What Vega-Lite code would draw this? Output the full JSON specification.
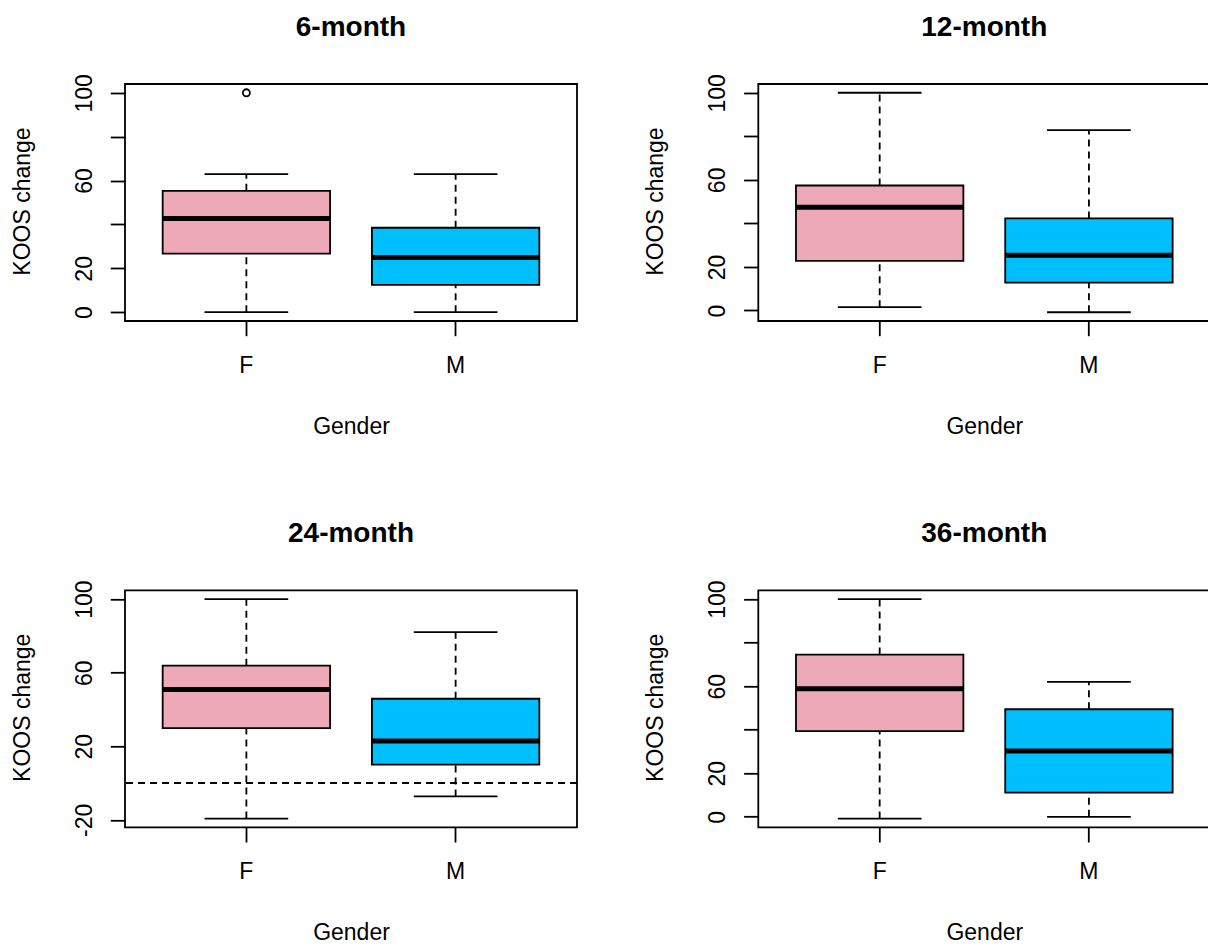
{
  "$schema": "https://vega.github.io/schema/vega-lite/v6.json",
  "background": "white",
  "padding": {"left": 10, "top": 12, "right": 0, "bottom": 0},
  "datasets": {
    "boxes": [
      {"period": "6-month", "gender": "F", "lower": 0, "q1": 26.7, "median": 42.7, "q3": 55.3, "upper": 62.9, "outlier": 100},
      {"period": "6-month", "gender": "M", "lower": 0, "q1": 12.5, "median": 24.9, "q3": 38.5, "upper": 62.9},
      {"period": "12-month", "gender": "F", "lower": 1.5, "q1": 22.8, "median": 47.4, "q3": 57.4, "upper": 100},
      {"period": "12-month", "gender": "M", "lower": -0.8, "q1": 12.8, "median": 25.4, "q3": 42.3, "upper": 82.8},
      {"period": "24-month", "gender": "F", "lower": -19.3, "q1": 29.8, "median": 50.9, "q3": 63.8, "upper": 100},
      {"period": "24-month", "gender": "M", "lower": -7.3, "q1": 10, "median": 22.9, "q3": 45.8, "upper": 82},
      {"period": "36-month", "gender": "F", "lower": -0.8, "q1": 39.3, "median": 58.8, "q3": 74.5, "upper": 100},
      {"period": "36-month", "gender": "M", "lower": 0, "q1": 11.1, "median": 30.2, "q3": 49.4, "upper": 62}
    ],
    "refs": [
      {"period": "24-month", "value": 0}
    ]
  },
  "columns": 2,
  "bounds": "flush",
  "spacing": {"row": 269.3, "column": 181.3},
  "config": {
    "view": {"stroke": "#000000", "strokeWidth": 1.8},
    "font": "Liberation Sans",
    "title": {"fontSize": 28, "fontWeight": "bold", "font": "Liberation Sans", "baseline": "alphabetic", "offset": 32, "anchor": "middle", "frame": "group", "color": "#000000"},
    "axis": {
      "labelFont": "Liberation Sans", "titleFont": "Liberation Sans",
      "labelFontSize": 23, "titleFontSize": 23, "titleFontWeight": "normal",
      "labelColor": "#000000", "titleColor": "#000000", "tickColor": "#000000",
      "tickWidth": 1.8, "tickSize": 14.7, "domain": false, "grid": false, "labelOverlap": false
    }
  },
  "concat": [
    {
      "width": 452, "height": 237,
      "title": {"text": "6-month"},
      "data": {"name": "boxes"},
      "transform": [{"filter": "datum.period == '6-month'"}],
      "encoding": {
        "x": {"field": "gender", "type": "nominal", "scale": {"domain": ["F", "M"], "paddingInner": 0.2, "paddingOuter": 0.18},
              "axis": {"title": "Gender", "labelAngle": 0, "labelPadding": 36.6, "labelBaseline": "alphabetic", "titleBaseline": "alphabetic", "titleY": 112.3}}
      },
      "layer": [
        {"mark": {"type": "rule", "strokeDash": [7, 5], "strokeWidth": 1.8, "color": "#000000"},
         "encoding": {"y": {"field": "lower", "type": "quantitative", "scale": {"domain": [-4, 104], "nice": false, "zero": false},
                            "axis": {"title": "KOOS change", "values": [0, 20, 40, 60, 80, 100], "labelExpr": "datum.value == 40 || datum.value == 80 ? '' : '' + datum.value",
                                     "labelAngle": -90, "labelAlign": "center", "labelBaseline": "alphabetic", "labelPadding": 19,
                                     "titleAngle": -90, "titleAlign": "center", "titleBaseline": "alphabetic", "titleX": -95.7, "titleY": 117}},
                      "y2": {"field": "q1"}}},
        {"mark": {"type": "rule", "strokeDash": [7, 5], "strokeWidth": 1.8, "color": "#000000"},
         "encoding": {"y": {"field": "q3", "type": "quantitative"}, "y2": {"field": "upper"}}},
        {"mark": {"type": "tick", "size": 83.7, "thickness": 1.8, "color": "#000000", "opacity": 1},
         "encoding": {"y": {"field": "lower", "type": "quantitative"}}},
        {"mark": {"type": "tick", "size": 83.7, "thickness": 1.8, "color": "#000000", "opacity": 1},
         "encoding": {"y": {"field": "upper", "type": "quantitative"}}},
        {"mark": {"type": "bar", "stroke": "#000000", "strokeWidth": 1.8, "opacity": 1},
         "encoding": {"y": {"field": "q1", "type": "quantitative"}, "y2": {"field": "q3"},
                      "color": {"field": "gender", "type": "nominal", "scale": {"domain": ["F", "M"], "range": ["#EEA9B8", "#00BFFF"]}, "legend": null}}},
        {"mark": {"type": "tick", "size": 167.4, "thickness": 5, "color": "#000000", "opacity": 1},
         "encoding": {"y": {"field": "median", "type": "quantitative"}}},
        {"mark": {"type": "point", "shape": "circle", "filled": false, "size": 50, "strokeWidth": 1.8, "color": "#000000", "opacity": 1},
         "encoding": {"y": {"field": "outlier", "type": "quantitative"}}}
      ]
    },
    {
      "width": 452, "height": 237,
      "title": {"text": "12-month"},
      "data": {"name": "boxes"},
      "transform": [{"filter": "datum.period == '12-month'"}],
      "encoding": {
        "x": {"field": "gender", "type": "nominal", "scale": {"domain": ["F", "M"], "paddingInner": 0.2, "paddingOuter": 0.18},
              "axis": {"title": "Gender", "labelAngle": 0, "labelPadding": 36.6, "labelBaseline": "alphabetic", "titleBaseline": "alphabetic", "titleY": 112.3}}
      },
      "layer": [
        {"mark": {"type": "rule", "strokeDash": [7, 5], "strokeWidth": 1.8, "color": "#000000"},
         "encoding": {"y": {"field": "lower", "type": "quantitative", "scale": {"domain": [-4.83, 104.03], "nice": false, "zero": false},
                            "axis": {"title": "KOOS change", "values": [0, 20, 40, 60, 80, 100], "labelExpr": "datum.value == 40 || datum.value == 80 ? '' : '' + datum.value",
                                     "labelAngle": -90, "labelAlign": "center", "labelBaseline": "alphabetic", "labelPadding": 19,
                                     "titleAngle": -90, "titleAlign": "center", "titleBaseline": "alphabetic", "titleX": -95.7, "titleY": 117}},
                      "y2": {"field": "q1"}}},
        {"mark": {"type": "rule", "strokeDash": [7, 5], "strokeWidth": 1.8, "color": "#000000"},
         "encoding": {"y": {"field": "q3", "type": "quantitative"}, "y2": {"field": "upper"}}},
        {"mark": {"type": "tick", "size": 83.7, "thickness": 1.8, "color": "#000000", "opacity": 1},
         "encoding": {"y": {"field": "lower", "type": "quantitative"}}},
        {"mark": {"type": "tick", "size": 83.7, "thickness": 1.8, "color": "#000000", "opacity": 1},
         "encoding": {"y": {"field": "upper", "type": "quantitative"}}},
        {"mark": {"type": "bar", "stroke": "#000000", "strokeWidth": 1.8, "opacity": 1},
         "encoding": {"y": {"field": "q1", "type": "quantitative"}, "y2": {"field": "q3"},
                      "color": {"field": "gender", "type": "nominal", "scale": {"domain": ["F", "M"], "range": ["#EEA9B8", "#00BFFF"]}, "legend": null}}},
        {"mark": {"type": "tick", "size": 167.4, "thickness": 5, "color": "#000000", "opacity": 1},
         "encoding": {"y": {"field": "median", "type": "quantitative"}}}
      ]
    },
    {
      "width": 452, "height": 237,
      "title": {"text": "24-month"},
      "layer": [
        {
          "data": {"name": "boxes"},
          "transform": [{"filter": "datum.period == '24-month'"}],
          "encoding": {
            "x": {"field": "gender", "type": "nominal", "scale": {"domain": ["F", "M"], "paddingInner": 0.2, "paddingOuter": 0.18},
                  "axis": {"title": "Gender", "labelAngle": 0, "labelPadding": 36.6, "labelBaseline": "alphabetic", "titleBaseline": "alphabetic", "titleY": 112.3}}
          },
          "layer": [
            {"mark": {"type": "rule", "strokeDash": [7, 5], "strokeWidth": 1.8, "color": "#000000"},
             "encoding": {"y": {"field": "lower", "type": "quantitative", "scale": {"domain": [-24.07, 104.77], "nice": false, "zero": false},
                                "axis": {"title": "KOOS change", "values": [-20, 0, 20, 40, 60, 80, 100], "labelExpr": "datum.value == 0 || datum.value == 40 || datum.value == 80 ? '' : '' + datum.value",
                                         "labelAngle": -90, "labelAlign": "center", "labelBaseline": "alphabetic", "labelPadding": 19,
                                         "titleAngle": -90, "titleAlign": "center", "titleBaseline": "alphabetic", "titleX": -95.7, "titleY": 117}},
                          "y2": {"field": "q1"}}},
            {"mark": {"type": "rule", "strokeDash": [7, 5], "strokeWidth": 1.8, "color": "#000000"},
             "encoding": {"y": {"field": "q3", "type": "quantitative"}, "y2": {"field": "upper"}}},
            {"mark": {"type": "tick", "size": 83.7, "thickness": 1.8, "color": "#000000", "opacity": 1},
             "encoding": {"y": {"field": "lower", "type": "quantitative"}}},
            {"mark": {"type": "tick", "size": 83.7, "thickness": 1.8, "color": "#000000", "opacity": 1},
             "encoding": {"y": {"field": "upper", "type": "quantitative"}}},
            {"mark": {"type": "bar", "stroke": "#000000", "strokeWidth": 1.8, "opacity": 1},
             "encoding": {"y": {"field": "q1", "type": "quantitative"}, "y2": {"field": "q3"},
                          "color": {"field": "gender", "type": "nominal", "scale": {"domain": ["F", "M"], "range": ["#EEA9B8", "#00BFFF"]}, "legend": null}}},
            {"mark": {"type": "tick", "size": 167.4, "thickness": 5, "color": "#000000", "opacity": 1},
             "encoding": {"y": {"field": "median", "type": "quantitative"}}}
          ]
        },
        {"data": {"name": "refs"},
         "mark": {"type": "rule", "strokeDash": [7, 5], "strokeWidth": 1.8, "color": "#000000"},
         "encoding": {"y": {"field": "value", "type": "quantitative"}}}
      ]
    },
    {
      "width": 452, "height": 237,
      "title": {"text": "36-month"},
      "data": {"name": "boxes"},
      "transform": [{"filter": "datum.period == '36-month'"}],
      "encoding": {
        "x": {"field": "gender", "type": "nominal", "scale": {"domain": ["F", "M"], "paddingInner": 0.2, "paddingOuter": 0.18},
              "axis": {"title": "Gender", "labelAngle": 0, "labelPadding": 36.6, "labelBaseline": "alphabetic", "titleBaseline": "alphabetic", "titleY": 112.3}}
      },
      "layer": [
        {"mark": {"type": "rule", "strokeDash": [7, 5], "strokeWidth": 1.8, "color": "#000000"},
         "encoding": {"y": {"field": "lower", "type": "quantitative", "scale": {"domain": [-4.83, 104.03], "nice": false, "zero": false},
                            "axis": {"title": "KOOS change", "values": [0, 20, 40, 60, 80, 100], "labelExpr": "datum.value == 40 || datum.value == 80 ? '' : '' + datum.value",
                                     "labelAngle": -90, "labelAlign": "center", "labelBaseline": "alphabetic", "labelPadding": 19,
                                     "titleAngle": -90, "titleAlign": "center", "titleBaseline": "alphabetic", "titleX": -95.7, "titleY": 117}},
                      "y2": {"field": "q1"}}},
        {"mark": {"type": "rule", "strokeDash": [7, 5], "strokeWidth": 1.8, "color": "#000000"},
         "encoding": {"y": {"field": "q3", "type": "quantitative"}, "y2": {"field": "upper"}}},
        {"mark": {"type": "tick", "size": 83.7, "thickness": 1.8, "color": "#000000", "opacity": 1},
         "encoding": {"y": {"field": "lower", "type": "quantitative"}}},
        {"mark": {"type": "tick", "size": 83.7, "thickness": 1.8, "color": "#000000", "opacity": 1},
         "encoding": {"y": {"field": "upper", "type": "quantitative"}}},
        {"mark": {"type": "bar", "stroke": "#000000", "strokeWidth": 1.8, "opacity": 1},
         "encoding": {"y": {"field": "q1", "type": "quantitative"}, "y2": {"field": "q3"},
                      "color": {"field": "gender", "type": "nominal", "scale": {"domain": ["F", "M"], "range": ["#EEA9B8", "#00BFFF"]}, "legend": null}}},
        {"mark": {"type": "tick", "size": 167.4, "thickness": 5, "color": "#000000", "opacity": 1},
         "encoding": {"y": {"field": "median", "type": "quantitative"}}}
      ]
    }
  ]
}
